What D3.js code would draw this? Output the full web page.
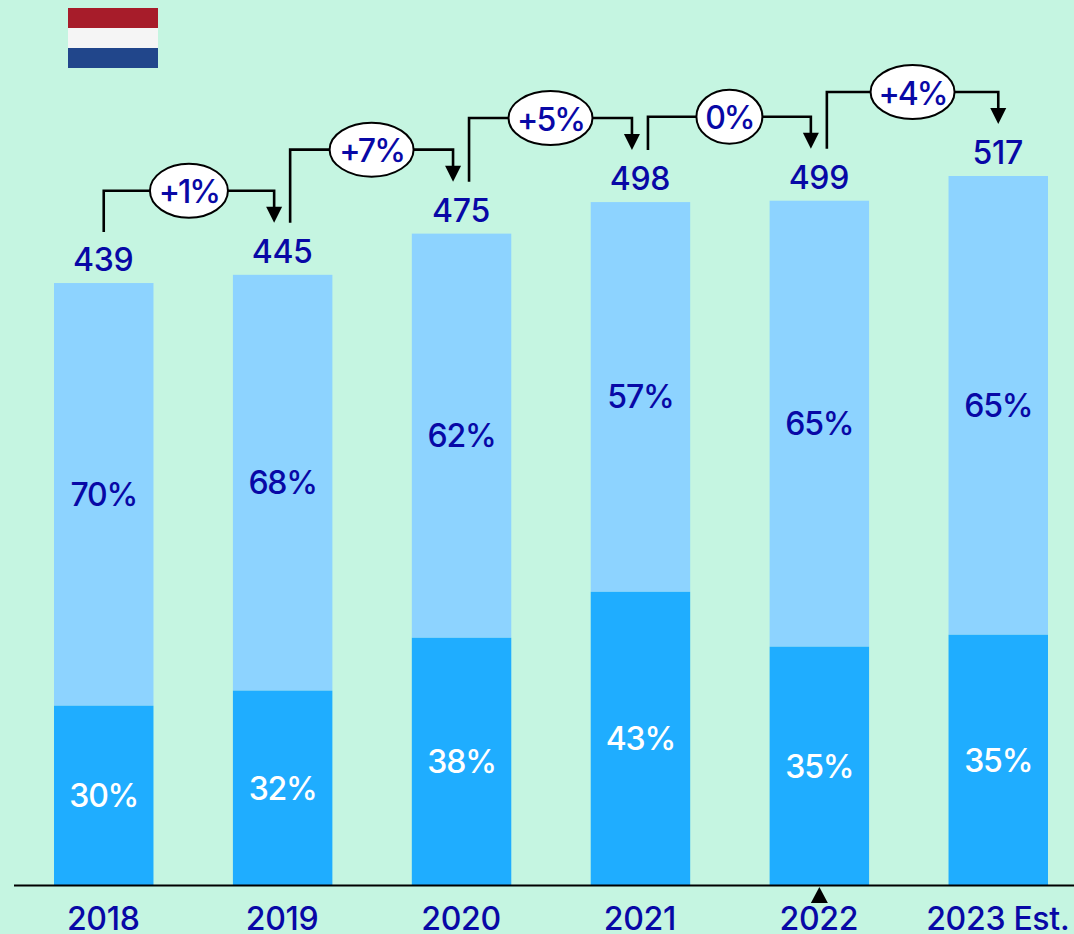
<!DOCTYPE html>
<html><head><meta charset="utf-8">
<script src="https://cdnjs.cloudflare.com/ajax/libs/d3/7.8.5/d3.min.js"></script>
<style>html,body{margin:0;padding:0;background:#C5F5E1;overflow:hidden}svg{display:block}text{font-family:Inter,"Noto Sans",sans-serif;font-weight:500}</style>
</head><body><div id="c"></div>
<script>
const years=["2018","2019","2020","2021","2022","2023 Est."];
const totals=[439,445,475,498,499,517];
const darkValues=[131,142,180.5,214,174,182.7];
const darkShare=[30,32,38,43,35,35];
const lightShare=[70,68,62,57,65,65];
const changes=["+1%","+7%","+5%","0%","+4%"];
const W=1074,H=934,INK="#0808A6";
const svg=d3.select("#c").append("svg").attr("width",W).attr("height",H);
svg.append("rect").attr("width",W).attr("height",H).attr("fill","#C5F5E1");
const x=d3.scaleBand().domain(years).range([54,1048]).paddingInner(0.444).paddingOuter(0);
const y=d3.scaleLinear().domain([0,517]).range([885.5,176]);
const bw=x.bandwidth(),cx=i=>x(years[i])+bw/2;
// flag
[["#A71C2A",8,20],["#F5F5F5",28,20],["#21468B",48,20]].forEach(f=>svg.append("rect").attr("x",68).attr("y",f[1]).attr("width",90).attr("height",f[2]).attr("fill",f[0]));
const g=svg.append("g");
g.selectAll(".l").data(years).join("rect").attr("x",d=>x(d)).attr("width",bw)
 .attr("y",(d,i)=>y(totals[i])).attr("height",(d,i)=>y(darkValues[i])-y(totals[i])).attr("fill","#8DD3FF");
g.selectAll(".d").data(years).join("rect").attr("x",d=>x(d)).attr("width",bw)
 .attr("y",(d,i)=>y(darkValues[i])).attr("height",(d,i)=>y(0)-y(darkValues[i])).attr("fill","#1FADFF");
const txt=(s,px,py,col,fs=32,ls=0)=>svg.append("text").attr("x",px).attr("y",py).attr("text-anchor","middle").attr("dominant-baseline","central").attr("font-size",fs).attr("letter-spacing",ls).attr("fill",col).text(s);
years.forEach((d,i)=>{
  txt(lightShare[i]+"%",cx(i),(y(totals[i])+y(darkValues[i]))/2,INK,32,-1.2);
  txt(darkShare[i]+"%",cx(i),(y(0)+y(darkValues[i]))/2,"#fff",32,-1.2);
  txt(totals[i],cx(i)-0.5,y(totals[i])-23.5,INK,32,-0.3);
  txt(d,cx(i)-0.5,918,INK,32,-0.3);
});
// axis
svg.append("line").attr("x1",14).attr("x2",W).attr("y1",885.5).attr("y2",885.5).attr("stroke","#000").attr("stroke-width",2);
svg.append("path").attr("d",`M${cx(4)},887l8.5,16h-17z`).attr("fill","#000");
// connectors
changes.forEach((c,i)=>{
  const x0=i===0?cx(0):cx(i)+7.5,x1=i===4?cx(5):cx(i+1)-8.5;
  const top=y(totals[i+1])-84,start=y(totals[i])-(i===0?51:52),tip=y(totals[i+1])-52;
  svg.append("path").attr("d",`M${x0},${start}V${top}H${x1}V${tip-14}`).attr("fill","none").attr("stroke","#000").attr("stroke-width",2.6);
  svg.append("path").attr("d",`M${x1},${tip}l-8,-16h16z`).attr("fill","#000");
  const mid=(x0+x1)/2,rx=c==="0%"?33:(c==="+1%"?39:42);
  svg.append("ellipse").attr("cx",mid).attr("cy",top).attr("rx",rx).attr("ry",27).attr("fill","#fff").attr("stroke","#000").attr("stroke-width",2);
  txt(c,mid,top+1,INK,32,-2);
});
</script></body></html>
